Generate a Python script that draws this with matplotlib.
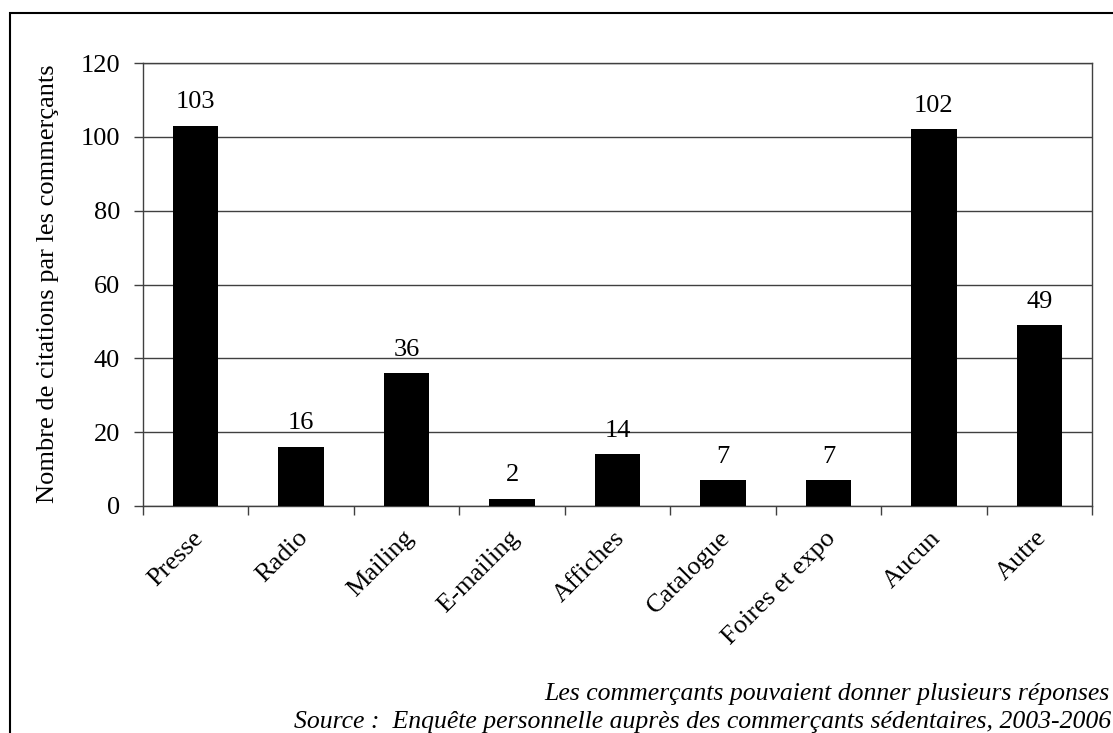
import matplotlib
matplotlib.use("Agg")
import matplotlib.pyplot as plt
from matplotlib.patches import Rectangle

categories = ["Presse", "Radio", "Mailing", "E-mailing", "Affiches", "Catalogue",
              "Foires et expo", "Aucun", "Autre"]
values = [103, 16, 36, 2, 14, 7, 7, 102, 49]
yticks = [0, 20, 40, 60, 80, 100, 120]
note1 = "Les commerçants pouvaient donner plusieurs réponses"
note2 = "Source :  Enquête personnelle auprès des commerçants sédentaires, 2003-2006"
ylabel = "Nombre de citations par les commerçants"

plt.rcParams['font.family'] = ['Liberation Serif', 'DejaVu Serif']

W, H = 1113, 733
fig = plt.figure(figsize=(W / 100, H / 100), dpi=100)

# outer frame (extends past right/bottom edge as in reference)
fig.patches.append(Rectangle((10 / W, -0.1), 1.2, (H - 13) / H + 0.1,
                             transform=fig.transFigure, fill=False,
                             edgecolor='black', linewidth=1.5))

left, right, top, bottom = 143, 1092, 63, 506
ax = fig.add_axes([left / W, 1 - bottom / H, (right - left) / W, (bottom - top) / H])

x = list(range(len(categories)))
ax.bar(x, values, width=0.43, color='black', zorder=3)
for xi, v in zip(x, values):
    ax.annotate(str(v), xy=(xi, v), xytext=(0, 9), textcoords='offset points',
                ha='center', va='bottom', fontsize=19)

ax.set_xlim(-0.5, len(categories) - 0.5)
ax.set_ylim(0, 120)
ax.set_yticks(yticks)
ax.set_yticklabels([str(t) for t in yticks], fontsize=19)
ax.yaxis.grid(True, color='#404040', linewidth=1, zorder=0)
ax.tick_params(axis='y', length=6.5, width=1, color='#404040', pad=10)

ax.set_xticks([i - 0.5 for i in range(len(categories) + 1)])
ax.set_xticklabels([])
ax.tick_params(axis='x', length=6.5, width=1, color='#404040')
for xi, c in zip(x, categories):
    ax.annotate(c, xy=(xi, 0), xycoords=('data', 'axes fraction'),
                xytext=(-3, -15), textcoords='offset points',
                rotation=45, ha='right', va='top', fontsize=19,
                rotation_mode='anchor')

for s in ax.spines.values():
    s.set_color('#404040')
    s.set_linewidth(1)

fig.text(48 / W, 1 - 284 / H, ylabel, rotation=90, ha='center', va='center', fontsize=19)
fig.text(1110 / W, 1 - 694 / H, note1, ha='right', va='center', fontsize=18.5, style='italic')
fig.text(1111 / W, 1 - 722 / H, note2, ha='right', va='center', fontsize=18.5, style='italic')

fig.savefig("out.png", dpi=100)
